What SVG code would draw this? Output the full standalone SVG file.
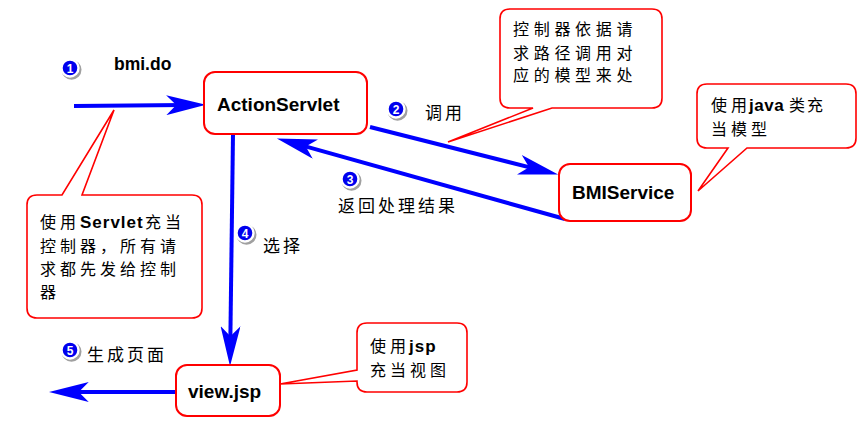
<svg xmlns="http://www.w3.org/2000/svg" width="865" height="423" viewBox="0 0 865 423">
<style>
.box{fill:#fff;stroke:#ff0000;stroke-width:2}
.call{fill:#fff;stroke:#ff0000;stroke-width:1.6;stroke-linejoin:miter}
.conn{fill:none;stroke:#0000ff;stroke-width:4}
.nodet{font-family:"Liberation Sans",Arial,sans-serif;font-weight:bold;font-size:19px;fill:#000}
.cj{font-family:"Noto Sans CJK SC",sans-serif;font-size:16px;letter-spacing:4px;fill:#000}
.lat{font-family:"Liberation Sans",Arial,sans-serif;font-weight:bold;font-size:17px;letter-spacing:1px;fill:#000}
.num{font-family:"Liberation Sans",Arial,sans-serif;font-weight:bold;font-size:12px;fill:#fff;text-anchor:middle}
</style>
<defs>
<marker id="ah" markerUnits="userSpaceOnUse" markerWidth="40" markerHeight="20" viewBox="0 0 36 18" refX="16" refY="9" orient="auto">
<path d="M0,0 L36,9 L0,18 L9,9 Z" fill="#0000ff"/>
</marker>
<g id="badge">
<circle cx="1.5" cy="1.8" r="10" fill="#a0a0a0"/>
<circle cx="0" cy="0" r="8.5" fill="#0000ee" stroke="#fff" stroke-width="2.4"/>
</g>
</defs>
<rect x="0" y="0" width="865" height="423" fill="#fff"/>
<g id="connectors">
<path class="conn" d="M74,106 L184,105" marker-end="url(#ah)"/>
<path class="conn" d="M370,127 L536.6,169.1" marker-end="url(#ah)"/>
<path class="conn" d="M565,219 L298.3,144.4" marker-end="url(#ah)"/>
<path class="conn" d="M233,134 L230.3,344" marker-end="url(#ah)"/>
<path class="conn" d="M176,392 L71,392" marker-end="url(#ah)"/>
</g>
<g id="ActionServlet">
<rect class="box" x="204" y="72" width="163" height="62" rx="11"/>
<text class="nodet" x="217" y="111">ActionServlet</text>
</g>
<g id="BMIService">
<rect class="box" x="559" y="164" width="132" height="57" rx="11"/>
<text class="nodet" x="572" y="199">BMIService</text>
</g>
<g id="viewjsp">
<rect class="box" x="176" y="365" width="104" height="51" rx="11"/>
<text class="nodet" x="188" y="398">view.jsp</text>
</g>
<g id="label-bmido">
<text x="114" y="70" font-family="Liberation Sans, Arial, sans-serif" font-weight="bold" font-size="17.5" fill="#000">bmi.do</text>
</g>
<g id="callout-servlet">
<path class="call" d="M37,195 L62,195 L114,110 L82,195 L192,195 Q202,195 202,205 L202,308 Q202,318 192,318 L37,318 Q27,318 27,308 L27,205 Q27,195 37,195 Z"/>
<text class="cj" x="40" y="228">使用</text>
<text class="lat" x="80" y="228">Servlet</text>
<text class="cj" x="145" y="228">充当</text>
<text class="cj" x="40" y="252">控制器，所有请</text>
<text class="cj" x="40" y="275">求都先发给控制</text>
<text class="cj" x="40" y="298">器</text>
</g>
<g id="callout-controller">
<path class="call" d="M510,9 L652,9 Q662,9 662,19 L662,98 Q662,108 652,108 L552,108 L448,142 L533,108 L510,108 Q500,108 500,98 L500,19 Q500,9 510,9 Z"/>
<text class="cj" x="513" y="35" style="letter-spacing:4.7px">控制器依据请</text>
<text class="cj" x="513" y="59" style="letter-spacing:4.7px">求路径调用对</text>
<text class="cj" x="513" y="81" style="letter-spacing:4.7px">应的模型来处</text>
</g>
<g id="callout-java">
<path class="call" d="M707,84 L846,84 Q856,84 856,94 L856,138 Q856,148 846,148 L747,148 L698,191 L728,148 L707,148 Q697,148 697,138 L697,94 Q697,84 707,84 Z"/>
<text class="cj" x="711" y="111">使用</text>
<text class="lat" x="749" y="111" style="letter-spacing:0.5px">java</text>
<text class="cj" x="789" y="111" style="letter-spacing:2px">类充</text>
<text class="cj" x="711" y="135">当模型</text>
</g>
<g id="callout-jsp">
<path class="call" d="M367,323 L457,323 Q467,323 467,333 L467,382 Q467,392 457,392 L367,392 Q357,392 357,382 L357,381 L280,384 L357,370 L357,333 Q357,323 367,323 Z"/>
<text class="cj" x="370" y="352">使用</text>
<text class="lat" x="409" y="352">jsp</text>
<text class="cj" x="370" y="376">充当视图</text>
</g>
<g id="step1"><use href="#badge" x="70" y="68"/><text class="num" x="70" y="72.5">1</text></g>
<g id="step2"><use href="#badge" x="396" y="109"/><text class="num" x="396" y="113.5">2</text><text class="cj" x="425" y="119" style="font-size:17px;letter-spacing:3px">调用</text></g>
<g id="step3"><use href="#badge" x="350" y="179"/><text class="num" x="350" y="183.5">3</text><text class="cj" x="338" y="212" style="font-size:17px;letter-spacing:3px">返回处理结果</text></g>
<g id="step4"><use href="#badge" x="245" y="233"/><text class="num" x="245" y="237.5">4</text><text class="cj" x="263" y="252" style="font-size:17px;letter-spacing:3px">选择</text></g>
<g id="step5"><use href="#badge" x="70" y="350"/><text class="num" x="70" y="354.5">5</text><text class="cj" x="87" y="361" style="font-size:17px;letter-spacing:3px">生成页面</text></g>
</svg>
